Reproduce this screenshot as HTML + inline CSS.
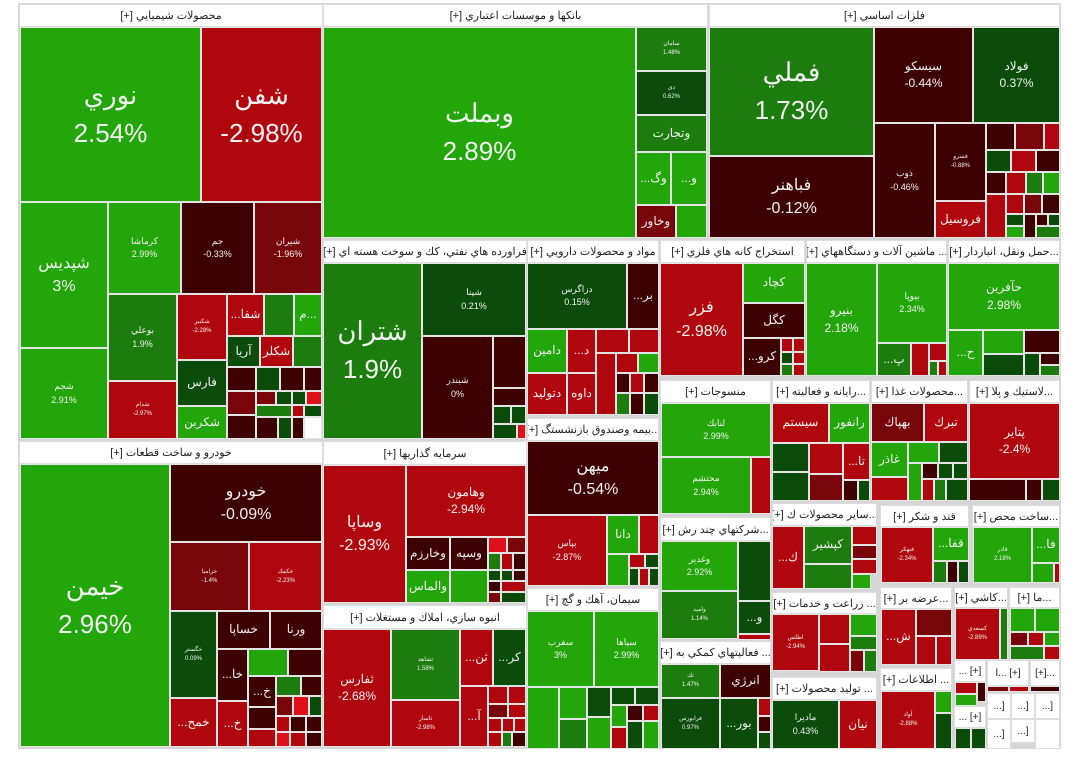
<!DOCTYPE html>
<html><head><meta charset="utf-8"><style>
body{margin:0;background:#fff;width:1080px;height:767px;overflow:hidden;position:relative;font-family:"Liberation Sans","Noto Sans CJK SC",sans-serif}
.t{position:absolute;box-sizing:border-box;border:1px solid #e4e4e4;color:#f2f2f2;display:flex;flex-direction:column;align-items:center;justify-content:center;text-align:center;overflow:hidden;line-height:1.45;font-size:9px;white-space:nowrap}
.h{position:absolute;box-sizing:border-box;background:#fff;border:1px solid #ddd;color:#222;font-size:11px;display:flex;align-items:center;justify-content:center;white-space:nowrap;overflow:hidden;direction:rtl}
.g1{background:#22a60a}.g2{background:#1c7c0d}.g3{background:#0b4c0a}
.r1{background:#b0070e}.r2{background:#780509}.r3{background:#3e0102}.r0{background:#e0101a}
.w{background:#fff}
.b{font-size:26px}.m{font-size:16px}.s{font-size:12px}.x{font-size:6px}
</style></head><body>
<div style="position:absolute;left:18px;top:3px;width:1043px;height:746px;background:#d6d6d6"></div>

<!-- Chemicals -->
<div class="h" style="left:19px;top:4px;width:304px;height:23px">محصولات شيميايي [+]</div>
<div class="t g1 b" style="left:20px;top:27px;width:181px;height:175px">نوري<br>2.54%</div>
<div class="t r1 b" style="left:201px;top:27px;width:121px;height:175px">شفن<br>-2.98%</div>
<div class="t g1 m" style="left:20px;top:202px;width:88px;height:146px">شپديس<br>3%</div>
<div class="t g1" style="left:20px;top:348px;width:88px;height:91px">شجم<br>2.91%</div>
<div class="t g1" style="left:108px;top:202px;width:73px;height:92px">كرماشا<br>2.99%</div>
<div class="t r3" style="left:181px;top:202px;width:73px;height:92px">جم<br>-0.33%</div>
<div class="t r2" style="left:254px;top:202px;width:68px;height:92px">شيران<br>-1.96%</div>
<div class="t g2" style="left:108px;top:294px;width:69px;height:87px">بوعلي<br>1.9%</div>
<div class="t r1 x" style="left:108px;top:381px;width:69px;height:58px">شدام<br>-2.97%</div>
<div class="t r1 x" style="left:177px;top:294px;width:50px;height:66px">شكبير<br>-2.28%</div>
<div class="t g3 s" style="left:177px;top:360px;width:50px;height:46px">فارس</div>
<div class="t g1 s" style="left:177px;top:406px;width:50px;height:33px">شكربن</div>
<div class="t r1 s" style="left:227px;top:294px;width:37px;height:42px">...شفا</div>
<div class="t g2" style="left:264px;top:294px;width:30px;height:42px"></div>
<div class="t g1 s" style="left:294px;top:294px;width:28px;height:42px">م...</div>
<div class="t g3 s" style="left:227px;top:336px;width:33px;height:31px">آريا</div>
<div class="t r1 s" style="left:260px;top:336px;width:33px;height:31px">شكلر</div>
<div class="t g2" style="left:293px;top:336px;width:29px;height:31px"></div>
<div class="t r3" style="left:227px;top:367px;width:29px;height:24px"></div>
<div class="t g3" style="left:256px;top:367px;width:24px;height:24px"></div>
<div class="t r3" style="left:280px;top:367px;width:24px;height:24px"></div>
<div class="t r3" style="left:304px;top:367px;width:18px;height:24px"></div>
<div class="t r2" style="left:227px;top:391px;width:29px;height:24px"></div>
<div class="t r2" style="left:256px;top:391px;width:20px;height:14px"></div>
<div class="t g3" style="left:276px;top:391px;width:16px;height:14px"></div>
<div class="t g3" style="left:292px;top:391px;width:14px;height:14px"></div>
<div class="t r0" style="left:306px;top:391px;width:16px;height:14px"></div>
<div class="t g2" style="left:256px;top:405px;width:36px;height:12px"></div>
<div class="t r1" style="left:292px;top:405px;width:12px;height:12px"></div>
<div class="t g3" style="left:304px;top:405px;width:18px;height:12px"></div>
<div class="t r3" style="left:227px;top:415px;width:29px;height:24px"></div>
<div class="t r3" style="left:256px;top:417px;width:22px;height:22px"></div>
<div class="t g3" style="left:278px;top:417px;width:14px;height:22px"></div>
<div class="t r3" style="left:292px;top:417px;width:12px;height:22px"></div>
<div class="t w" style="left:304px;top:417px;width:18px;height:22px"></div>

<!-- Banks -->
<div class="h" style="left:323px;top:4px;width:385px;height:23px">بانكها و موسسات اعتباري [+]</div>
<div class="t g1 b" style="left:323px;top:27px;width:313px;height:211px">وبملت<br>2.89%</div>
<div class="t g2 x" style="left:636px;top:27px;width:71px;height:44px">سامان<br>1.48%</div>
<div class="t g3 x" style="left:636px;top:71px;width:71px;height:44px">دی<br>0.62%</div>
<div class="t g2 s" style="left:636px;top:115px;width:71px;height:37px">وتجارت</div>
<div class="t g1 s" style="left:636px;top:152px;width:35px;height:53px">...وگ</div>
<div class="t g1 s" style="left:671px;top:152px;width:36px;height:53px">...و</div>
<div class="t r2 s" style="left:636px;top:205px;width:40px;height:33px">وخاور</div>
<div class="t g1" style="left:676px;top:205px;width:31px;height:33px"></div>

<!-- Metals -->
<div class="h" style="left:709px;top:4px;width:351px;height:23px">فلزات اساسي [+]</div>
<div class="t g2 b" style="left:709px;top:27px;width:165px;height:129px">فملي<br>1.73%</div>
<div class="t r3 m" style="left:709px;top:156px;width:165px;height:82px">فباهنر<br>-0.12%</div>
<div class="t r3 s" style="left:874px;top:27px;width:99px;height:96px">سيسكو<br>-0.44%</div>
<div class="t g3 s" style="left:973px;top:27px;width:87px;height:96px">فولاد<br>0.37%</div>
<div class="t r3" style="left:874px;top:123px;width:61px;height:115px">ذوب<br>-0.46%</div>
<div class="t r3 x" style="left:935px;top:123px;width:51px;height:78px">فسرو<br>-0.88%</div>
<div class="t r1 s" style="left:935px;top:201px;width:51px;height:37px">فروسيل</div>
<div class="t r3" style="left:986px;top:123px;width:29px;height:27px"></div>
<div class="t r2" style="left:1015px;top:123px;width:29px;height:27px"></div>
<div class="t r1" style="left:1044px;top:123px;width:16px;height:27px"></div>
<div class="t g3" style="left:986px;top:150px;width:25px;height:22px"></div>
<div class="t r1" style="left:1011px;top:150px;width:25px;height:22px"></div>
<div class="t r3" style="left:1036px;top:150px;width:24px;height:22px"></div>
<div class="t r3" style="left:986px;top:172px;width:20px;height:22px"></div>
<div class="t r1" style="left:1006px;top:172px;width:20px;height:22px"></div>
<div class="t g2" style="left:1026px;top:172px;width:17px;height:22px"></div>
<div class="t g1" style="left:1043px;top:172px;width:17px;height:22px"></div>
<div class="t r1" style="left:986px;top:194px;width:20px;height:44px"></div>
<div class="t r1" style="left:1006px;top:194px;width:18px;height:20px"></div>
<div class="t r2" style="left:1024px;top:194px;width:18px;height:20px"></div>
<div class="t r3" style="left:1042px;top:194px;width:18px;height:20px"></div>
<div class="t g3" style="left:1006px;top:214px;width:18px;height:12px"></div>
<div class="t g1" style="left:1006px;top:226px;width:18px;height:12px"></div>
<div class="t r3" style="left:1024px;top:214px;width:12px;height:24px"></div>
<div class="t r3" style="left:1036px;top:214px;width:12px;height:12px"></div>
<div class="t g3" style="left:1048px;top:214px;width:12px;height:12px"></div>
<div class="t g2" style="left:1036px;top:226px;width:24px;height:12px"></div>

<!-- Refinery -->
<div class="h" style="left:323px;top:240px;width:204px;height:23px">فراورده هاي نفتي، كك و سوخت هسته اي [+]</div>
<div class="t g2 b" style="left:323px;top:263px;width:99px;height:176px">شتران<br>1.9%</div>
<div class="t g3" style="left:422px;top:263px;width:104px;height:73px">شپنا<br>0.21%</div>
<div class="t r3" style="left:422px;top:336px;width:71px;height:103px">شبندر<br>0%</div>
<div class="t r3" style="left:493px;top:336px;width:33px;height:52px"></div>
<div class="t r3" style="left:493px;top:388px;width:33px;height:18px"></div>
<div class="t g3" style="left:493px;top:406px;width:18px;height:18px"></div>
<div class="t g3" style="left:511px;top:406px;width:15px;height:18px"></div>
<div class="t g3" style="left:493px;top:424px;width:24px;height:15px"></div>
<div class="t r0" style="left:517px;top:424px;width:9px;height:15px"></div>

<!-- Pharma -->
<div class="h" style="left:527px;top:240px;width:132px;height:23px">مواد و محصولات دارويي [+]</div>
<div class="t g3" style="left:527px;top:263px;width:100px;height:66px">دزاگرس<br>0.15%</div>
<div class="t r3 s" style="left:627px;top:263px;width:32px;height:66px">...بر</div>
<div class="t g1 s" style="left:527px;top:329px;width:40px;height:44px">دامين</div>
<div class="t r1 s" style="left:527px;top:373px;width:40px;height:42px">دتوليد</div>
<div class="t r1 s" style="left:567px;top:329px;width:29px;height:44px">...د</div>
<div class="t r1 s" style="left:567px;top:373px;width:29px;height:42px">داوه</div>
<div class="t r1" style="left:596px;top:329px;width:33px;height:24px"></div>
<div class="t r1" style="left:629px;top:329px;width:30px;height:24px"></div>
<div class="t r1" style="left:596px;top:353px;width:20px;height:62px"></div>
<div class="t r1" style="left:616px;top:353px;width:22px;height:20px"></div>
<div class="t g1" style="left:638px;top:353px;width:21px;height:20px"></div>
<div class="t r3" style="left:616px;top:373px;width:14px;height:20px"></div>
<div class="t r1" style="left:630px;top:373px;width:14px;height:20px"></div>
<div class="t r3" style="left:644px;top:373px;width:15px;height:20px"></div>
<div class="t g2" style="left:616px;top:393px;width:14px;height:22px"></div>
<div class="t r3" style="left:630px;top:393px;width:14px;height:22px"></div>
<div class="t g3" style="left:644px;top:393px;width:15px;height:22px"></div>

<!-- Insurance -->
<div class="h" style="left:527px;top:418px;width:132px;height:23px">...بيمه وصندوق بازنشستگ [+]</div>
<div class="t r3 m" style="left:527px;top:441px;width:132px;height:74px">ميهن<br>-0.54%</div>
<div class="t r1" style="left:527px;top:515px;width:80px;height:71px">بپاس<br>-2.87%</div>
<div class="t g1 s" style="left:607px;top:515px;width:32px;height:39px">دانا</div>
<div class="t r1" style="left:639px;top:515px;width:20px;height:39px"></div>
<div class="t g1" style="left:607px;top:554px;width:22px;height:32px"></div>
<div class="t r1" style="left:629px;top:554px;width:16px;height:14px"></div>
<div class="t g3" style="left:645px;top:554px;width:14px;height:14px"></div>
<div class="t g3" style="left:629px;top:568px;width:10px;height:18px"></div>
<div class="t r1" style="left:639px;top:568px;width:10px;height:18px"></div>
<div class="t g3" style="left:649px;top:568px;width:10px;height:18px"></div>

<!-- Cement -->
<div class="h" style="left:527px;top:588px;width:132px;height:23px">سيمان، آهك و گچ [+]</div>
<div class="t g1" style="left:527px;top:611px;width:67px;height:76px">سفرب<br>3%</div>
<div class="t g1" style="left:594px;top:611px;width:65px;height:76px">سپاها<br>2.99%</div>
<div class="t g1" style="left:527px;top:687px;width:32px;height:62px"></div>
<div class="t g1" style="left:559px;top:687px;width:28px;height:32px"></div>
<div class="t g2" style="left:559px;top:719px;width:28px;height:30px"></div>
<div class="t g3" style="left:587px;top:687px;width:24px;height:30px"></div>
<div class="t g1" style="left:587px;top:717px;width:24px;height:32px"></div>
<div class="t g3" style="left:611px;top:687px;width:24px;height:18px"></div>
<div class="t g3" style="left:635px;top:687px;width:24px;height:18px"></div>
<div class="t g1" style="left:611px;top:705px;width:16px;height:22px"></div>
<div class="t r3" style="left:627px;top:705px;width:16px;height:16px"></div>
<div class="t r1" style="left:643px;top:705px;width:16px;height:16px"></div>
<div class="t r1" style="left:611px;top:727px;width:16px;height:22px"></div>
<div class="t g3" style="left:627px;top:721px;width:16px;height:28px"></div>
<div class="t g1" style="left:643px;top:721px;width:16px;height:28px"></div>

<!-- Mining -->
<div class="h" style="left:660px;top:240px;width:145px;height:23px">استخراج كانه هاي فلزي [+]</div>
<div class="t r1 m" style="left:660px;top:263px;width:83px;height:113px">فزر<br>-2.98%</div>
<div class="t g1 s" style="left:743px;top:263px;width:62px;height:40px">كچاد</div>
<div class="t r3 s" style="left:743px;top:303px;width:62px;height:35px">كگل</div>
<div class="t r3 s" style="left:743px;top:338px;width:38px;height:38px">...كرو</div>
<div class="t r1" style="left:781px;top:338px;width:12px;height:14px"></div>
<div class="t r1" style="left:793px;top:338px;width:12px;height:14px"></div>
<div class="t g3" style="left:781px;top:352px;width:12px;height:12px"></div>
<div class="t r1" style="left:793px;top:352px;width:12px;height:12px"></div>
<div class="t g2" style="left:781px;top:364px;width:12px;height:12px"></div>
<div class="t r1" style="left:793px;top:364px;width:12px;height:12px"></div>

<!-- Machinery -->
<div class="h" style="left:806px;top:240px;width:141px;height:23px">... ماشين آلات و دستگاههاي [+]</div>
<div class="t g1 s" style="left:806px;top:263px;width:71px;height:113px">بنيرو<br>2.18%</div>
<div class="t g1" style="left:877px;top:263px;width:70px;height:80px">بيوپا<br>2.34%</div>
<div class="t g2 s" style="left:877px;top:343px;width:34px;height:33px">...پ</div>
<div class="t r1" style="left:911px;top:343px;width:18px;height:33px"></div>
<div class="t r1" style="left:929px;top:343px;width:18px;height:18px"></div>
<div class="t g2" style="left:929px;top:361px;width:9px;height:15px"></div>
<div class="t r1" style="left:938px;top:361px;width:9px;height:15px"></div>

<!-- Transport -->
<div class="h" style="left:948px;top:240px;width:112px;height:23px">...حمل ونقل، انباردار [+]</div>
<div class="t g1 s" style="left:948px;top:263px;width:112px;height:67px">حآفرين<br>2.98%</div>
<div class="t g1 s" style="left:948px;top:330px;width:35px;height:46px">...ح</div>
<div class="t g1" style="left:983px;top:330px;width:41px;height:24px"></div>
<div class="t g3" style="left:983px;top:354px;width:41px;height:22px"></div>
<div class="t r3" style="left:1024px;top:330px;width:36px;height:23px"></div>
<div class="t g3" style="left:1024px;top:353px;width:16px;height:23px"></div>
<div class="t r3" style="left:1040px;top:353px;width:20px;height:12px"></div>
<div class="t g2" style="left:1040px;top:365px;width:20px;height:11px"></div>

<!-- Textiles -->
<div class="h" style="left:660px;top:380px;width:111px;height:23px">منسوجات [+]</div>
<div class="t g1" style="left:661px;top:403px;width:110px;height:54px">لنابك<br>2.99%</div>
<div class="t g1" style="left:661px;top:457px;width:90px;height:57px">محتشم<br>2.94%</div>
<div class="t r1" style="left:751px;top:457px;width:20px;height:57px"></div>

<!-- Computer -->
<div class="h" style="left:772px;top:380px;width:98px;height:23px">...رايانه و فعاليته [+]</div>
<div class="t r1 s" style="left:772px;top:403px;width:57px;height:40px">سيستم</div>
<div class="t g1 s" style="left:829px;top:403px;width:41px;height:40px">رانفور</div>
<div class="t g3" style="left:772px;top:443px;width:37px;height:29px"></div>
<div class="t g3" style="left:772px;top:472px;width:37px;height:29px"></div>
<div class="t r1" style="left:809px;top:443px;width:34px;height:31px"></div>
<div class="t r2" style="left:809px;top:474px;width:34px;height:27px"></div>
<div class="t r1 s" style="left:843px;top:443px;width:27px;height:37px">...تا</div>
<div class="t r3" style="left:843px;top:480px;width:15px;height:21px"></div>
<div class="t g3" style="left:858px;top:480px;width:12px;height:21px"></div>

<!-- Food -->
<div class="h" style="left:871px;top:380px;width:97px;height:23px">...محصولات غذا [+]</div>
<div class="t r2 s" style="left:871px;top:403px;width:53px;height:39px">بهپاك</div>
<div class="t r1 s" style="left:924px;top:403px;width:44px;height:39px">تبرك</div>
<div class="t g1 s" style="left:871px;top:442px;width:37px;height:35px">غاذر</div>
<div class="t r1" style="left:871px;top:477px;width:37px;height:24px"></div>
<div class="t g1" style="left:908px;top:442px;width:31px;height:21px"></div>
<div class="t g3" style="left:939px;top:442px;width:29px;height:21px"></div>
<div class="t g1" style="left:908px;top:463px;width:14px;height:38px"></div>
<div class="t r3" style="left:922px;top:463px;width:16px;height:16px"></div>
<div class="t g3" style="left:938px;top:463px;width:15px;height:16px"></div>
<div class="t g3" style="left:953px;top:463px;width:15px;height:16px"></div>
<div class="t r1" style="left:922px;top:479px;width:12px;height:22px"></div>
<div class="t g2" style="left:934px;top:479px;width:12px;height:22px"></div>
<div class="t g3" style="left:946px;top:479px;width:22px;height:22px"></div>

<!-- Rubber -->
<div class="h" style="left:969px;top:380px;width:91px;height:23px">...لاستيك و پلا [+]</div>
<div class="t r1 s" style="left:969px;top:403px;width:91px;height:76px">پتاير<br>-2.4%</div>
<div class="t r3" style="left:969px;top:479px;width:57px;height:22px"></div>
<div class="t r3" style="left:1026px;top:479px;width:16px;height:22px"></div>
<div class="t g3" style="left:1042px;top:479px;width:18px;height:22px"></div>

<!-- Multi -->
<div class="h" style="left:660px;top:517px;width:111px;height:24px">...شركتهاي چند رش [+]</div>
<div class="t g1" style="left:661px;top:541px;width:77px;height:50px">وغدير<br>2.92%</div>
<div class="t g2 x" style="left:661px;top:591px;width:77px;height:48px">واميد<br>1.14%</div>
<div class="t g3" style="left:738px;top:541px;width:33px;height:60px"></div>
<div class="t g3 s" style="left:738px;top:601px;width:33px;height:33px">...و</div>
<div class="t r1" style="left:738px;top:634px;width:33px;height:6px"></div>

<!-- Aux -->
<div class="h" style="left:660px;top:641px;width:111px;height:23px">... فعاليتهاي كمكي به [+]</div>
<div class="t g2 x" style="left:661px;top:664px;width:59px;height:34px">تك<br>1.47%</div>
<div class="t r3 s" style="left:720px;top:664px;width:51px;height:34px">انرژي</div>
<div class="t g3 x" style="left:661px;top:698px;width:59px;height:51px">فرابورس<br>0.97%</div>
<div class="t g3 s" style="left:720px;top:698px;width:38px;height:51px">...بور</div>
<div class="t r1" style="left:758px;top:698px;width:13px;height:18px"></div>
<div class="t r3" style="left:758px;top:716px;width:13px;height:16px"></div>
<div class="t g3" style="left:758px;top:732px;width:13px;height:17px"></div>

<!-- Other products -->
<div class="h" style="left:772px;top:503px;width:105px;height:23px">...ساير محصولات ك [+]</div>
<div class="t r1 s" style="left:772px;top:526px;width:32px;height:63px">...ك</div>
<div class="t g2 s" style="left:804px;top:526px;width:48px;height:38px">كپشير</div>
<div class="t g2" style="left:804px;top:564px;width:48px;height:25px"></div>
<div class="t r1" style="left:852px;top:526px;width:25px;height:19px"></div>
<div class="t r2" style="left:852px;top:545px;width:25px;height:14px"></div>
<div class="t r1" style="left:852px;top:559px;width:25px;height:15px"></div>
<div class="t g1" style="left:852px;top:574px;width:19px;height:15px"></div>

<!-- Agriculture -->
<div class="h" style="left:772px;top:592px;width:105px;height:22px">... زراعت و خدمات [+]</div>
<div class="t r1 x" style="left:772px;top:614px;width:47px;height:57px">اطلس<br>-2.94%</div>
<div class="t r1" style="left:819px;top:614px;width:31px;height:30px"></div>
<div class="t r1" style="left:819px;top:644px;width:31px;height:28px"></div>
<div class="t g1" style="left:850px;top:614px;width:27px;height:22px"></div>
<div class="t g2" style="left:850px;top:636px;width:27px;height:14px"></div>
<div class="t r2" style="left:850px;top:650px;width:14px;height:22px"></div>
<div class="t g2" style="left:864px;top:650px;width:13px;height:22px"></div>

<!-- Production -->
<div class="h" style="left:772px;top:677px;width:105px;height:23px">... توليد محصولات [+]</div>
<div class="t g3" style="left:772px;top:700px;width:67px;height:49px">ماديرا<br>0.43%</div>
<div class="t r1 s" style="left:839px;top:700px;width:38px;height:49px">نيان</div>

<!-- Sugar -->
<div class="h" style="left:880px;top:505px;width:89px;height:22px">قند و شكر [+]</div>
<div class="t r1 x" style="left:881px;top:527px;width:52px;height:56px">فبهكر<br>-2.34%</div>
<div class="t g1 s" style="left:933px;top:527px;width:36px;height:34px">...قفا</div>
<div class="t g2" style="left:933px;top:561px;width:14px;height:22px"></div>
<div class="t r3" style="left:947px;top:561px;width:11px;height:22px"></div>
<div class="t g3" style="left:958px;top:561px;width:11px;height:22px"></div>

<!-- Sale -->
<div class="h" style="left:880px;top:587px;width:72px;height:22px">...عرضه بر [+]</div>
<div class="t r1 s" style="left:881px;top:609px;width:35px;height:56px">...ش</div>
<div class="t r2" style="left:916px;top:609px;width:36px;height:27px"></div>
<div class="t r1" style="left:916px;top:636px;width:20px;height:29px"></div>
<div class="t r1" style="left:936px;top:636px;width:16px;height:29px"></div>

<!-- Information -->
<div class="h" style="left:880px;top:668px;width:72px;height:23px">... اطلاعات [+]</div>
<div class="t r1 x" style="left:881px;top:691px;width:54px;height:58px">آواد<br>-2.88%</div>
<div class="t g1" style="left:935px;top:691px;width:17px;height:22px"></div>
<div class="t g3" style="left:935px;top:713px;width:17px;height:36px"></div>

<!-- Building products -->
<div class="h" style="left:972px;top:505px;width:88px;height:22px">...ساخت محص [+]</div>
<div class="t g1 x" style="left:973px;top:527px;width:59px;height:56px">قاذر<br>2.18%</div>
<div class="t g1 s" style="left:1032px;top:527px;width:28px;height:36px">...فا</div>
<div class="t g1" style="left:1032px;top:563px;width:22px;height:20px"></div>
<div class="t r1" style="left:1054px;top:563px;width:6px;height:20px"></div>

<!-- Tiles -->
<div class="h" style="left:954px;top:587px;width:54px;height:21px">...كاشي [+]</div>
<div class="t r1 x" style="left:955px;top:608px;width:45px;height:52px">كسعدي<br>-2.89%</div>
<div class="t g2" style="left:1000px;top:608px;width:8px;height:52px"></div>
<div class="h" style="left:1009px;top:587px;width:51px;height:21px">...ما [+]</div>
<div class="t g1" style="left:1010px;top:608px;width:25px;height:24px"></div>
<div class="t g1" style="left:1035px;top:608px;width:25px;height:24px"></div>
<div class="t r2" style="left:1010px;top:632px;width:18px;height:14px"></div>
<div class="t r1" style="left:1028px;top:632px;width:16px;height:14px"></div>
<div class="t g1" style="left:1044px;top:632px;width:16px;height:14px"></div>
<div class="t g2" style="left:1010px;top:646px;width:34px;height:14px"></div>
<div class="t r1" style="left:1044px;top:646px;width:16px;height:14px"></div>

<!-- small sectors -->
<div class="h" style="left:954px;top:660px;width:32px;height:22px;font-size:10px">[+] ...</div>
<div class="t r1" style="left:955px;top:682px;width:22px;height:12px"></div>
<div class="t r3" style="left:977px;top:682px;width:9px;height:20px"></div>
<div class="t g1" style="left:955px;top:694px;width:22px;height:12px"></div>
<div class="h" style="left:954px;top:706px;width:32px;height:22px;font-size:10px">[+] ...</div>
<div class="t g3" style="left:955px;top:728px;width:16px;height:21px"></div>
<div class="t g3" style="left:971px;top:728px;width:15px;height:21px"></div>
<div class="h" style="left:987px;top:660px;width:42px;height:26px;font-size:10px">[+] ...ا</div>
<div class="t r2" style="left:987px;top:686px;width:22px;height:6px"></div>
<div class="t r1" style="left:1009px;top:686px;width:20px;height:6px"></div>
<div class="h" style="left:1030px;top:660px;width:30px;height:26px;font-size:10px">...[+]</div>
<div class="t r3" style="left:1030px;top:686px;width:30px;height:6px"></div>
<div class="h" style="left:987px;top:693px;width:24px;height:26px;font-size:10px">[...</div>
<div class="h" style="left:1011px;top:693px;width:24px;height:26px;font-size:10px">[...</div>
<div class="h" style="left:1035px;top:693px;width:25px;height:26px;font-size:10px">[...</div>
<div class="h" style="left:987px;top:719px;width:24px;height:30px;font-size:10px">[...</div>
<div class="h" style="left:1011px;top:719px;width:24px;height:24px;font-size:10px">[...</div>
<div class="h" style="left:1035px;top:719px;width:25px;height:30px"></div>

<!-- Auto -->
<div class="h" style="left:19px;top:441px;width:304px;height:23px">خودرو و ساخت قطعات [+]</div>
<div class="t g1 b" style="left:20px;top:464px;width:150px;height:283px">خيمن<br>2.96%</div>
<div class="t r3 m" style="left:170px;top:464px;width:152px;height:78px">خودرو<br>-0.09%</div>
<div class="t r2 x" style="left:170px;top:542px;width:79px;height:69px">خزامیا<br>-1.4%</div>
<div class="t r1 x" style="left:249px;top:542px;width:73px;height:69px">خكمك<br>-2.23%</div>
<div class="t g3 x" style="left:170px;top:611px;width:47px;height:87px">خگستر<br>0.09%</div>
<div class="t r3 s" style="left:217px;top:611px;width:53px;height:38px">خساپا</div>
<div class="t r3 s" style="left:270px;top:611px;width:52px;height:38px">ورنا</div>
<div class="t r3 s" style="left:217px;top:649px;width:31px;height:52px">...خا</div>
<div class="t g1" style="left:248px;top:649px;width:40px;height:27px"></div>
<div class="t r3" style="left:288px;top:649px;width:34px;height:27px"></div>
<div class="t r3 s" style="left:248px;top:676px;width:28px;height:31px">...خ</div>
<div class="t g2" style="left:276px;top:676px;width:25px;height:20px"></div>
<div class="t r3" style="left:301px;top:676px;width:21px;height:20px"></div>
<div class="t r2" style="left:276px;top:696px;width:17px;height:20px"></div>
<div class="t r0" style="left:293px;top:696px;width:16px;height:20px"></div>
<div class="t g3" style="left:309px;top:696px;width:13px;height:20px"></div>
<div class="t r1 s" style="left:170px;top:698px;width:47px;height:49px">...خمح</div>
<div class="t r1 s" style="left:217px;top:701px;width:31px;height:46px">...خ</div>
<div class="t r3" style="left:248px;top:707px;width:28px;height:22px"></div>
<div class="t r1" style="left:248px;top:729px;width:28px;height:18px"></div>
<div class="t r1" style="left:276px;top:716px;width:14px;height:16px"></div>
<div class="t r3" style="left:290px;top:716px;width:16px;height:16px"></div>
<div class="t r3" style="left:306px;top:716px;width:16px;height:16px"></div>
<div class="t r0" style="left:276px;top:732px;width:14px;height:15px"></div>
<div class="t r1" style="left:290px;top:732px;width:16px;height:15px"></div>
<div class="t r3" style="left:306px;top:732px;width:16px;height:15px"></div>

<!-- Investments -->
<div class="h" style="left:323px;top:441px;width:204px;height:24px">سرمايه گذاريها [+]</div>
<div class="t r1 m" style="left:323px;top:465px;width:83px;height:138px">وساپا<br>-2.93%</div>
<div class="t r1 s" style="left:406px;top:465px;width:120px;height:72px">وهامون<br>-2.94%</div>
<div class="t r3 s" style="left:406px;top:537px;width:44px;height:33px">وخارزم</div>
<div class="t r3 s" style="left:450px;top:537px;width:38px;height:33px">وسپه</div>
<div class="t g1 s" style="left:406px;top:570px;width:44px;height:33px">والماس</div>
<div class="t g1" style="left:450px;top:570px;width:38px;height:33px"></div>
<div class="t r0" style="left:488px;top:537px;width:19px;height:16px"></div>
<div class="t r2" style="left:507px;top:537px;width:19px;height:16px"></div>
<div class="t g2" style="left:488px;top:553px;width:13px;height:17px"></div>
<div class="t r1" style="left:501px;top:553px;width:12px;height:17px"></div>
<div class="t r3" style="left:513px;top:553px;width:13px;height:17px"></div>
<div class="t g3" style="left:488px;top:570px;width:13px;height:11px"></div>
<div class="t g3" style="left:501px;top:570px;width:12px;height:11px"></div>
<div class="t r3" style="left:513px;top:570px;width:13px;height:11px"></div>
<div class="t r3" style="left:488px;top:581px;width:13px;height:11px"></div>
<div class="t r1" style="left:501px;top:581px;width:25px;height:11px"></div>
<div class="t r2" style="left:488px;top:592px;width:13px;height:11px"></div>
<div class="t g3" style="left:501px;top:592px;width:25px;height:11px"></div>

<!-- Mass construction -->
<div class="h" style="left:323px;top:605px;width:204px;height:24px">انبوه سازي، املاك و مستغلات [+]</div>
<div class="t r1 s" style="left:323px;top:629px;width:68px;height:118px">ثفارس<br>-2.68%</div>
<div class="t g2 x" style="left:391px;top:629px;width:69px;height:71px">ثشاهد<br>1.58%</div>
<div class="t r1 x" style="left:391px;top:700px;width:69px;height:47px">ثاسار<br>-2.98%</div>
<div class="t r1 s" style="left:460px;top:629px;width:33px;height:57px">...ثن</div>
<div class="t g3 s" style="left:493px;top:629px;width:33px;height:57px">...كر</div>
<div class="t r1 s" style="left:460px;top:686px;width:28px;height:61px">...آ</div>
<div class="t r1" style="left:488px;top:686px;width:20px;height:18px"></div>
<div class="t r1" style="left:508px;top:686px;width:18px;height:18px"></div>
<div class="t r2" style="left:488px;top:704px;width:20px;height:14px"></div>
<div class="t r1" style="left:508px;top:704px;width:18px;height:14px"></div>
<div class="t r1" style="left:488px;top:718px;width:14px;height:14px"></div>
<div class="t r1" style="left:502px;top:718px;width:12px;height:14px"></div>
<div class="t r1" style="left:514px;top:718px;width:12px;height:14px"></div>
<div class="t r1" style="left:488px;top:732px;width:14px;height:15px"></div>
<div class="t g2" style="left:502px;top:732px;width:10px;height:15px"></div>
<div class="t r3" style="left:512px;top:732px;width:14px;height:15px"></div>
</body></html>
